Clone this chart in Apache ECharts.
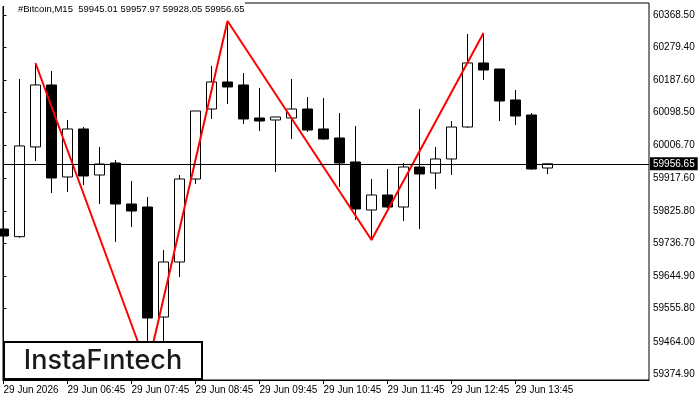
<!DOCTYPE html>
<html>
<head>
<meta charset="utf-8">
<script src="https://cdn.jsdelivr.net/npm/echarts@6/dist/echarts.min.js"></script>
<style>
  html, body { margin: 0; padding: 0; background: #fff; }
  #chart { width: 700px; height: 400px; }
</style>
</head>
<body>
<div id="chart"></div>
<script>
// M15 bars, oldest first
const opens = [59776.2, 59755.0, 60003.3, 60174.8, 59920.2, 60053.0, 59925.7, 59958.9, 59845.4, 59837.1,
  59532.6, 59684.9, 59914.6, 60108.3, 60183.1, 60174.8, 60083.4, 60077.9, 60083.4, 60108.3,
  60053.0, 60028.1, 59961.7, 59828.8, 59870.3, 59837.1, 59947.8, 59931.2, 59970.0, 60058.5,
  60235.7, 60219.0, 60133.3, 60091.7, 59945.01];
const closes = [59756.8, 60006.1, 60174.8, 59917.4, 60053.0, 59922.9, 59956.1, 59845.4, 59826.0, 59529.9,
  59684.9, 59914.6, 60102.8, 60183.1, 60169.3, 60080.7, 60075.1, 60086.2, 60108.3, 60050.2,
  60025.3, 59958.9, 59831.6, 59870.3, 59837.1, 59947.8, 59928.5, 59970.0, 60058.5, 60235.7,
  60216.3, 60130.5, 60088.9, 59942.3, 59956.65];
const lows = [59698.7, 59752.0, 59964.4, 59875.9, 59878.6, 59898.0, 59845.4, 59740.3, 59781.7, 59391.5,
  59441.3, 59643.4, 59900.9, 60080.7, 60122.2, 60066.8, 60047.5, 59934.0, 60025.3, 60044.7,
  60023.0, 59892.5, 59801.1, 59745.8, 59834.3, 59798.3, 59776.2, 59887.0, 59925.7, 60056.0,
  60188.6, 60075.1, 60064.1, 59940.0, 59928.05];
const highs = [59812.2, 60191.4, 60235.7, 60213.5, 60077.9, 60058.5, 60003.3, 59967.2, 59909.1, 59864.8,
  59718.1, 59925.7, 60102.8, 60227.3, 60351.9, 60208.0, 60166.5, 60086.2, 60191.4, 60141.5,
  60138.8, 60097.3, 60061.3, 59914.6, 59942.3, 59958.9, 60108.3, 60003.3, 60075.1, 60315.9,
  60318.7, 60219.0, 60160.9, 60097.3, 59957.97];

// pattern (red zigzag) pivots: bar index and price
const patternBars = [2, 9, 14, 23, 30];
const patternPrices = [60235.7, 59391.5, 60351.9, 59745.8, 60318.7];

const priceTicks = [59374.90, 59464.00, 59555.80, 59644.90, 59736.70, 59825.80,
  59917.60, 60006.70, 60098.50, 60187.60, 60279.40, 60368.50];
const timeTickBars = [0, 4, 8, 12, 16, 20, 24, 28, 32];
const timeLabels = ['29 Jun 2026', '29 Jun 06:45', '29 Jun 07:45', '29 Jun 08:45', '29 Jun 09:45',
  '29 Jun 10:45', '29 Jun 11:45', '29 Jun 12:45', '29 Jun 13:45'];

const symbolName = '#Bitcoin,M15';
const lastBar = opens.length - 1;
const lastPrice = closes[lastBar];

const candles = opens.map((o, i) => [i, o, closes[i], lows[i], highs[i]]);
const zigzag = patternBars.map((b, i) => [b, patternPrices[i]]);

const font = 'Liberation Sans, Arial, sans-serif';
const chart = echarts.init(document.getElementById('chart'), null, { renderer: 'canvas' });

chart.setOption({
  animation: false,
  backgroundColor: '#fff',
  title: {
    text: `${symbolName}  ${opens[lastBar].toFixed(2)} ${highs[lastBar].toFixed(2)} ${lows[lastBar].toFixed(2)} ${closes[lastBar].toFixed(2)}`,
    left: 18,
    top: 4,
    padding: 0,
    textStyle: { fontFamily: font, fontSize: 9.5, fontWeight: 'normal', color: '#000' },
  },
  grid: {
    left: 3, right: 51, top: 3, bottom: 20,
    show: true, borderColor: '#000', borderWidth: 1, backgroundColor: 'transparent',
  },
  xAxis: {
    type: 'value',
    min: -0.03,
    max: 40.34,
    splitLine: { show: false },
    axisLine: { show: true, lineStyle: { color: '#000', width: 1 } },
    axisTick: { show: true, length: 4, lineStyle: { color: '#000' }, customValues: timeTickBars },
    axisLabel: {
      customValues: timeTickBars,
      formatter: (v) => timeLabels[timeTickBars.indexOf(Math.round(v))] || '',
      align: 'left',
      margin: 5,
      color: '#000',
      fontFamily: font,
      fontSize: 10,
    },
  },
  yAxis: {
    type: 'value',
    position: 'right',
    min: 59358.3,
    max: 60401.7,
    scale: true,
    splitLine: { show: false },
    axisLine: { show: true, lineStyle: { color: '#000', width: 1 } },
    axisTick: { show: true, length: 3, lineStyle: { color: '#000' }, customValues: priceTicks },
    axisLabel: {
      customValues: priceTicks,
      formatter: (v) => v.toFixed(2),
      margin: 4,
      color: '#000',
      fontFamily: font,
      fontSize: 10,
    },
  },
  series: [
    {
      type: 'candlestick',
      data: candles,
      encode: { x: 0, y: [1, 2, 3, 4] },
      barWidth: 10,
      clip: false,
      itemStyle: {
        color: '#fff',
        color0: '#000',
        borderColor: '#000',
        borderColor0: '#000',
        borderWidth: 1,
      },
      markLine: {
        silent: true,
        symbol: 'none',
        data: [{ yAxis: lastPrice }],
        lineStyle: { color: '#000', width: 1, type: 'solid' },
        label: {
          position: 'end',
          distance: 1,
          formatter: () => lastPrice.toFixed(2),
          backgroundColor: '#000',
          color: '#fff',
          padding: [2, 3, 1, 3],
          fontFamily: font,
          fontSize: 10,
        },
        emphasis: { disabled: true },
      },
      z: 2,
    },
    {
      type: 'line',
      data: zigzag,
      symbol: 'none',
      lineStyle: { color: '#ff0000', width: 2 },
      z: 3,
    },
  ],
  graphic: [
    {
      type: 'rect',
      left: 0, top: 0, z: 100, zlevel: 1,
      shape: { width: 245, height: 6 },
      style: { fill: '#fff' },
    },
    {
      type: 'group',
      left: 3, top: 341, z: 100, zlevel: 1,
      children: [
        {
          type: 'rect',
          z: 100, zlevel: 1,
          shape: { x: 0, y: 0, width: 198, height: 37 },
          style: { fill: '#fff', stroke: '#000', lineWidth: 2 },
        },
        {
          type: 'text',
          z: 101, zlevel: 1,
          x: 99, y: 19,
          style: {
            text: 'InstaFıntech',
            fill: '#1a1a1a',
            font: '500 27px Inter, Roboto, sans-serif',
            align: 'center',
            verticalAlign: 'middle',
          },
        },
      ],
    },
  ],
});
</script>
</body>
</html>
